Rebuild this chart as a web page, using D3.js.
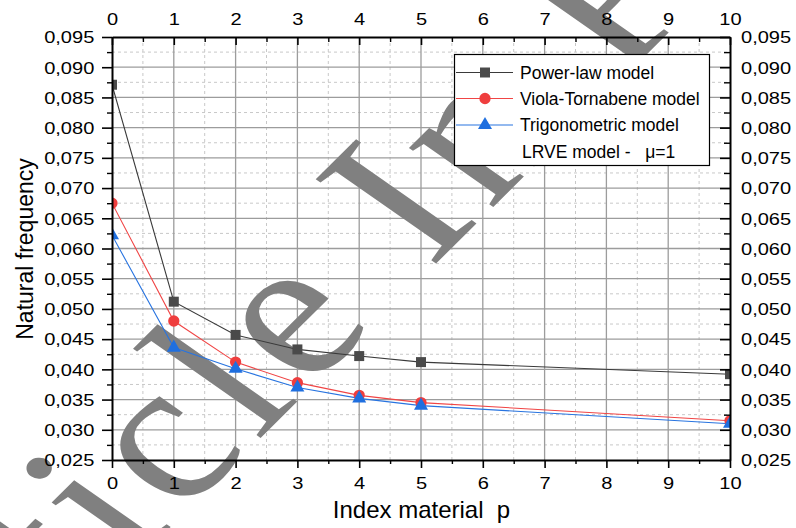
<!DOCTYPE html>
<html><head><meta charset="utf-8">
<script src="https://cdn.jsdelivr.net/npm/d3@7"></script>
<style>
body{margin:0;background:#fff}
svg{display:block}
text{font-family:"Liberation Sans",Arial,sans-serif}
</style>
</head><body>
<svg id="chart" width="796" height="528"></svg>
<script>
// ---- data ----
const indexValues = [0, 1, 2, 3, 4, 5, 10];
const powerLaw = [0.0871, 0.0512, 0.0457, 0.0433, 0.0422, 0.0412, 0.0392];
const violaTornabene = [0.0675, 0.0480, 0.0412, 0.0378, 0.0357, 0.0345, 0.0315];
const trigonometric = [0.0622, 0.0436, 0.0401, 0.0370, 0.0352, 0.0340, 0.0310];
const seriesNames = ["Power-law model", "Viola-Tornabene model", "Trigonometric model"];
const legendNote = "LRVE model -   \u03bc=1";
const xTicks = [0,1,2,3,4,5,6,7,8,9,10];
const xMinorTicks = [0.5,1.5,2.5,3.5,4.5,5.5,6.5,7.5,8.5,9.5];
const yTicks = [0.025,0.030,0.035,0.040,0.045,0.050,0.055,0.060,0.065,0.070,0.075,0.080,0.085,0.090,0.095];
const yMinorTicks = [0.0275,0.0325,0.0375,0.0425,0.0475,0.0525,0.0575,0.0625,0.0675,0.0725,0.0775,0.0825,0.0875,0.0925];
const xTitle = "Index material  p";
const yTitle = "Natural frequency";
const watermark = "Article In Press";

// ---- layout ----
const L = 112, R = 730, T = 37, B = 460;
const svg = d3.select("#chart");
const x = d3.scaleLinear().domain([0, 10]).range([L, R]);
const y = d3.scaleLinear().domain([0.025, 0.095]).range([B, T]);
const fmtY = v => d3.format(".3f")(v).replace(".", ",");
const SX = 1.18; // horizontal stretch of tick labels

svg.append("defs").append("clipPath").attr("id", "plotclip")
  .append("rect").attr("x", L).attr("y", T).attr("width", R - L).attr("height", B - T);

// ---- grid ----
const grid = svg.append("g");
grid.selectAll("line.vminor").data(xMinorTicks).join("line")
  .attr("x1", d => x(d)).attr("x2", d => x(d)).attr("y1", T).attr("y2", B)
  .attr("stroke", "#c8c8c8").attr("stroke-width", 1).attr("stroke-dasharray", "3,3");
grid.selectAll("line.hminor").data(yMinorTicks).join("line")
  .attr("y1", d => y(d)).attr("y2", d => y(d)).attr("x1", L).attr("x2", R)
  .attr("stroke", "#c8c8c8").attr("stroke-width", 1).attr("stroke-dasharray", "3,3");
grid.selectAll("line.vmajor").data(xTicks.slice(1, -1)).join("line")
  .attr("x1", d => x(d)).attr("x2", d => x(d)).attr("y1", T).attr("y2", B)
  .attr("stroke", "#9c9c9c").attr("stroke-width", 1.3);
grid.selectAll("line.hmajor").data(yTicks.slice(1, -1)).join("line")
  .attr("y1", d => y(d)).attr("y2", d => y(d)).attr("x1", L).attr("x2", R)
  .attr("stroke", "#9c9c9c").attr("stroke-width", 1.3);

// ---- watermark ----
svg.append("text")
  .attr("transform", "translate(-98,794) scale(1.2,1) rotate(-50)")
  .attr("font-family", "'Liberation Serif','Times New Roman',serif")
  .style("font-family", "'Liberation Serif','Times New Roman',serif")
  .attr("font-size", 200).attr("letter-spacing", 10)
  .attr("fill", "#808080").text(watermark);

// ---- series ----
const series = [
  {name: seriesNames[0], values: powerLaw, line: "#3a3a3a", fill: "#4a4a4a", sym: d3.symbolSquare, size: 100},
  {name: seriesNames[1], values: violaTornabene, line: "#f04545", fill: "#ef3e3e", sym: d3.symbolCircle, size: 100},
  {name: seriesNames[2], values: trigonometric, line: "#2874e0", fill: "#1f6fdf", sym: d3.symbolTriangle, size: 85}
];
const plot = svg.append("g").attr("clip-path", "url(#plotclip)");
const lineGen = d3.line().x(d => x(d[0])).y(d => y(d[1]));
series.forEach(s => {
  const pts = indexValues.map((v, i) => [v, s.values[i]]);
  plot.append("path").datum(pts).attr("d", lineGen)
    .attr("fill", "none").attr("stroke", s.line).attr("stroke-width", 1.1);
});
series.forEach(s => {
  const pts = indexValues.map((v, i) => [v, s.values[i]]);
  plot.selectAll(null).data(pts).join("path")
    .attr("transform", d => `translate(${x(d[0])},${y(d[1])})`)
    .attr("d", d3.symbol().type(s.sym).size(s.size))
    .attr("fill", s.fill);
});

// ---- axes ----
function styleAxis(g) {
  g.select(".domain").attr("stroke", "#000").attr("stroke-width", 2);
  g.selectAll(".tick line").attr("stroke", "#000").attr("stroke-width", 1.6);
}
function minorAxis(axisFn, pos, vals, size) {
  const g = svg.append("g").attr("transform", pos)
    .call(axisFn.tickValues(vals).tickSize(size).tickSizeOuter(0).tickFormat(""));
  g.select(".domain").remove();
  g.selectAll(".tick line").attr("stroke", "#000").attr("stroke-width", 1.4);
}
minorAxis(d3.axisBottom(x), `translate(0,${B})`, xMinorTicks, 4);
minorAxis(d3.axisTop(x), `translate(0,${T})`, xMinorTicks, -5);
minorAxis(d3.axisLeft(y), `translate(${L},0)`, yMinorTicks, 5);
minorAxis(d3.axisRight(y), `translate(${R},0)`, yMinorTicks, -6);

const gB = svg.append("g").attr("transform", `translate(0,${B})`)
  .call(d3.axisBottom(x).tickValues(xTicks).tickSize(8).tickSizeOuter(0).tickFormat(d3.format("d")));
const gT = svg.append("g").attr("transform", `translate(0,${T})`)
  .call(d3.axisTop(x).tickValues(xTicks).tickSize(-8).tickSizeOuter(0).tickFormat(d3.format("d")));
const gL = svg.append("g").attr("transform", `translate(${L},0)`)
  .call(d3.axisLeft(y).tickValues(yTicks).tickSize(10).tickSizeOuter(0).tickFormat(fmtY));
const gR = svg.append("g").attr("transform", `translate(${R},0)`)
  .call(d3.axisRight(y).tickValues(yTicks).tickSize(-10).tickSizeOuter(0).tickFormat(fmtY));
[gB, gT, gL, gR].forEach(g => {
  styleAxis(g);
  g.selectAll(".tick text").attr("font-size", 17).attr("fill", "#000")
    .style("font-family", "'Liberation Sans',Arial,sans-serif")
    .attr("transform", `scale(${SX},1)`);
});
gB.selectAll(".tick text").attr("y", 29.5).attr("dy", 0);
gT.selectAll(".tick text").attr("y", -12.5).attr("dy", 0);
gL.selectAll(".tick text").attr("x", -17.7 / SX).attr("dy", "0.34em");
gR.selectAll(".tick text").attr("x", 11 / SX).attr("dy", "0.34em");

// ---- titles ----
svg.append("text").attr("x", 421.5).attr("y", 518).attr("text-anchor", "middle")
  .attr("font-size", 24).attr("fill", "#000").style("white-space", "pre").text(xTitle);
svg.append("text").attr("transform", "translate(33,249) rotate(-90)").attr("text-anchor", "middle")
  .attr("font-size", 23).attr("fill", "#000").text(yTitle);

// ---- legend ----
const lg = svg.append("g");
lg.append("rect").attr("x", 454.5).attr("y", 54.5).attr("width", 255).attr("height", 111)
  .attr("fill", "#fff").attr("stroke", "#000").attr("stroke-width", 1.2);
const rowY = [72.5, 98.5, 125, 152];
series.forEach((s, i) => {
  lg.append("line").attr("x1", 456).attr("x2", 513).attr("y1", rowY[i]).attr("y2", rowY[i])
    .attr("stroke", s.line).attr("stroke-width", 1.1);
  lg.append("path").attr("transform", `translate(485,${rowY[i]})`)
    .attr("d", d3.symbol().type(s.sym).size(s.size)).attr("fill", s.fill);
  lg.append("text").attr("x", 520).attr("y", rowY[i]).attr("dy", "0.35em")
    .attr("font-size", 17.5).attr("fill", "#000").text(s.name);
});
lg.append("text").attr("x", 522).attr("y", rowY[3]).attr("dy", "0.35em")
  .attr("font-size", 17.5).attr("fill", "#000").style("white-space", "pre").text(legendNote);
</script>
</body></html>
